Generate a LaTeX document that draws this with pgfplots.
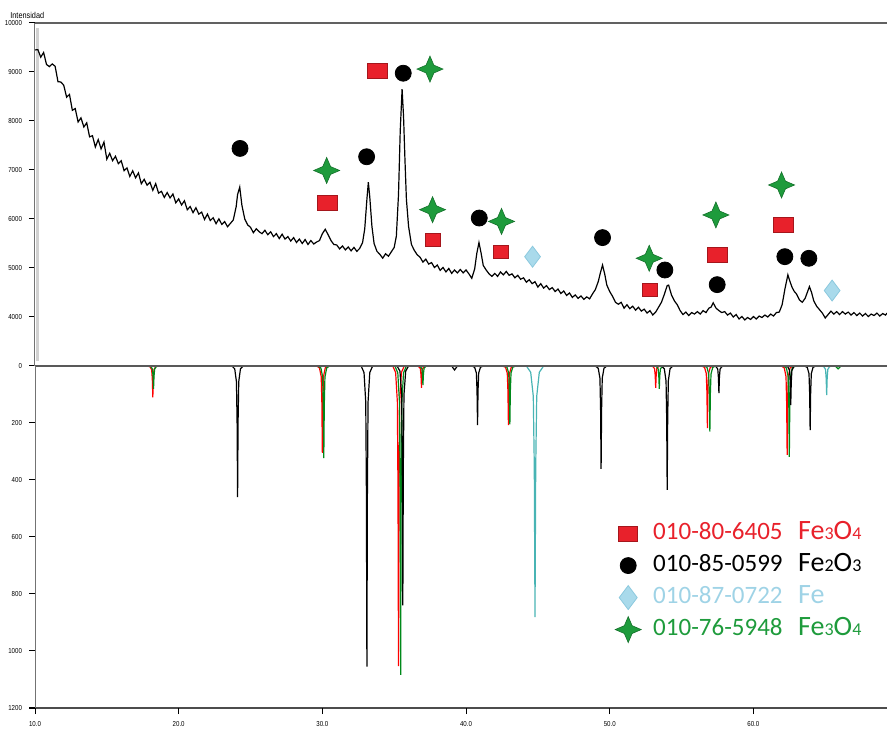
\documentclass[border=0pt]{standalone}
\usepackage{pgfplots}
\pgfplotsset{compat=1.18}
\usepackage{fontspec}
\setmainfont{Liberation Sans}
\newfontfamily\narrowfont[FakeStretch=0.85]{Liberation Sans}
\newfontfamily\legfont{Carlito}
\definecolor{legred}{HTML}{E8212B}
\definecolor{legredd}{HTML}{A5161C}
\definecolor{leggreen}{HTML}{1E9B3C}
\definecolor{leggreend}{HTML}{13702A}
\definecolor{legblue}{HTML}{A9DAEB}
\definecolor{legblued}{HTML}{8CC9DE}
\definecolor{legbluetxt}{HTML}{9FD3E6}
\definecolor{refred}{HTML}{FF0000}
\definecolor{refgreen}{HTML}{00891A}
\definecolor{refteal}{HTML}{48B4B4}
\pgfdeclareplotmark{sparkle}{%
  \pgfpathmoveto{\pgfqpoint{0pt}{\pgfplotmarksize}}%
  \pgfpathlineto{\pgfqpoint{0.3\pgfplotmarksize}{0.3\pgfplotmarksize}}%
  \pgfpathlineto{\pgfqpoint{\pgfplotmarksize}{0pt}}%
  \pgfpathlineto{\pgfqpoint{0.3\pgfplotmarksize}{-0.3\pgfplotmarksize}}%
  \pgfpathlineto{\pgfqpoint{0pt}{-\pgfplotmarksize}}%
  \pgfpathlineto{\pgfqpoint{-0.3\pgfplotmarksize}{-0.3\pgfplotmarksize}}%
  \pgfpathlineto{\pgfqpoint{-\pgfplotmarksize}{0pt}}%
  \pgfpathlineto{\pgfqpoint{-0.3\pgfplotmarksize}{0.3\pgfplotmarksize}}%
  \pgfpathclose
  \pgfusepathqfillstroke}
\newcommand\sub[1]{{\fontsize{9}{10}\selectfont #1}}
\newcommand\fmla{\fontsize{14}{15}\selectfont}
\begin{document}
\begin{tikzpicture}
\pgfplotsset{
  common/.style={
    width=426pt, scale only axis, xmin=10, xmax=69.3,
    tick align=outside, major tick length=3pt,
    tick style={black, line width=0.5pt},
    tick label style={font=\narrowfont\fontsize{3.6}{4}\selectfont},
    /pgf/number format/assume math mode=true,
    scaled x ticks=false, scaled y ticks=false,
    axis line style={draw=none},
  },
  sqbig/.style={only marks, mark=square*, mark size=3.75pt, mark options={xscale=1.33, fill=legred, draw=legredd, line width=0.4pt}},
  sqsmall/.style={only marks, mark=square*, mark size=3.3pt, mark options={xscale=1.15, fill=legred, draw=legredd, line width=0.4pt}},
  circ/.style={only marks, mark=*, mark size=4pt, mark options={fill=black, draw=black}},
  star/.style={only marks, mark=sparkle, mark size=6.5pt, mark options={fill=leggreen, draw=leggreend, line width=0.3pt}},
  diam/.style={only marks, mark=diamond*, mark size=5.25pt, mark options={fill=legblue, draw=legblued, line width=0.4pt}},
}
% ---------------- bottom panel: reference patterns ----------------
\begin{axis}[common,
  at={(0pt,0pt)}, anchor=south west, height=171pt,
  ymin=-1200, ymax=0,
  xtick={10,20,30,40,50,60}, xticklabels={10.0,20.0,30.0,40.0,50.0,60.0},
  ytick={-1200,-1000,-800,-600,-400,-200,0}, yticklabels={1200,1000,800,600,400,200,0},
  xtick pos=bottom, ytick pos=left,
  axis on top,
  legend style={at={(axis description cs:0.681,0.548)}, anchor=north west, draw=none, fill=none,
    inner sep=0pt, outer sep=0pt, row sep=3pt, column sep=0pt,
    font=\legfont\fontsize{12.5}{14}\selectfont,
    nodes={inner sep=0.5pt, text height=9pt, text depth=3pt}},
  legend cell align=left,
  legend image code/.code={\path[draw=none, fill=none] (0pt,0pt) rectangle (17pt,0.1pt); \draw[#1] plot coordinates {(5pt,0pt)};},
]
\addplot[refred, line width=0.6pt, forget plot] coordinates {
(10,0)
(17.8,0)(18.0,-2.4)(18.12,-13)(18.165,-46)(18.2,-110)(18.235,-46)(18.28,-13)(18.4,-2.4)(18.6,0)
(29.6,0)(29.8,-6.7)(29.92,-37)(29.965,-128)(30.0,-305)(30.035,-128)(30.08,-37)(30.2,-6.7)(30.4,0)
(34.9,0)(35.1,-23)(35.22,-126)(35.265,-442)(35.3,-1053)(35.335,-442)(35.38,-126)(35.5,-23)(35.7,0)
(36.5,0)(36.7,-1.7)(36.82,-9)(36.865,-32)(36.9,-77)(36.935,-32)(36.98,-9)(37.1,-1.7)(37.3,0)
(42.55,0)(42.75,-4.6)(42.87,-25)(42.915,-87)(42.95,-207)(42.985,-87)(43.03,-25)(43.15,-4.6)(43.35,0)
(52.8,0)(53.0,-1.7)(53.12,-9)(53.165,-32)(53.2,-77)(53.235,-32)(53.28,-9)(53.4,-1.7)(53.6,0)
(56.4,0)(56.6,-4.8)(56.72,-26)(56.765,-92)(56.8,-218)(56.835,-92)(56.88,-26)(57.0,-4.8)(57.2,0)
(61.95,0)(62.15,-6.9)(62.27,-37)(62.315,-131)(62.35,-312)(62.385,-131)(62.43,-37)(62.55,-6.9)(62.75,0)
(69.3,0)};
\addplot[refgreen, line width=0.6pt, forget plot] coordinates {
(10,0)
(17.85,0)(18.05,-1.8)(18.17,-10)(18.215,-34)(18.25,-80)(18.285,-34)(18.33,-10)(18.45,-1.8)(18.65,0)
(29.7,0)(29.9,-7.1)(30.02,-39)(30.065,-136)(30.1,-323)(30.135,-136)(30.18,-39)(30.3,-7.1)(30.5,0)
(35.05,0)(35.25,-24)(35.37,-130)(35.415,-455)(35.45,-1084)(35.485,-455)(35.53,-130)(35.65,-24)(35.85,0)
(36.6,0)(36.8,-1.5)(36.92,-8)(36.965,-28)(37.0,-67)(37.035,-28)(37.08,-8)(37.2,-1.5)(37.4,0)
(42.65,0)(42.85,-4.5)(42.97,-25)(43.015,-86)(43.05,-205)(43.085,-86)(43.13,-25)(43.25,-4.5)(43.45,0)
(53.05,0)(53.25,-1.8)(53.37,-10)(53.415,-34)(53.45,-80)(53.485,-34)(53.53,-10)(53.65,-1.8)(53.85,0)
(56.57,0)(56.77,-5.1)(56.89,-28)(56.935,-97)(56.97,-230)(57.005,-97)(57.05,-28)(57.17,-5.1)(57.37,0)
(62.1,0)(62.3,-7)(62.42,-38)(62.465,-134)(62.5,-319)(62.535,-134)(62.58,-38)(62.7,-7)(62.9,0)
(65.7,0)(65.9,-10)(66.1,0)
(69.3,0)};
\addplot[black, line width=0.6pt, forget plot] coordinates {
(10,0)
(23.7,0)(23.9,-10)(24.02,-55)(24.065,-193)(24.1,-460)(24.135,-193)(24.18,-55)(24.3,-10)(24.5,0)
(32.7,0)(32.9,-23)(33.02,-127)(33.065,-443)(33.1,-1055)(33.135,-443)(33.18,-127)(33.3,-23)(33.5,0)
(35.2,0)(35.4,-18)(35.52,-101)(35.565,-353)(35.6,-840)(35.635,-353)(35.68,-101)(35.8,-18)(36.0,0)
(39.0,0)(39.2,-14)(39.4,0)
(40.4,0)(40.6,-4.6)(40.72,-25)(40.765,-87)(40.8,-207)(40.835,-87)(40.88,-25)(41.0,-4.6)(41.2,0)
(49.0,0)(49.2,-8)(49.32,-43)(49.365,-152)(49.4,-361)(49.435,-152)(49.48,-43)(49.6,-8)(49.8,0)
(53.6,0)(53.8,-9.6)(53.92,-52)(53.965,-183)(54.0,-435)(54.035,-183)(54.08,-52)(54.2,-9.6)(54.4,0)
(57.2,0)(57.4,-2.1)(57.52,-11)(57.565,-40)(57.6,-95)(57.635,-40)(57.68,-11)(57.8,-2.1)(58.0,0)
(62.2,0)(62.4,-3)(62.52,-16)(62.565,-58)(62.6,-137)(62.635,-58)(62.68,-16)(62.8,-3)(63.0,0)
(63.55,0)(63.75,-5)(63.87,-27)(63.915,-95)(63.95,-225)(63.985,-95)(64.03,-27)(64.15,-5)(64.35,0)
(69.3,0)};
\addplot[refteal, line width=0.6pt, forget plot] coordinates {
(10,0)
(44.2,0)(44.5,-22)(44.68,-106)(44.75,-352)(44.8,-881)(44.85,-352)(44.92,-106)(45.1,-22)(45.4,0)
(64.7,0)(64.9,-2.2)(65.02,-12)(65.065,-43)(65.1,-102)(65.135,-43)(65.18,-12)(65.3,-2.2)(65.5,0)
(69.3,0)};
\draw[color=black!65, line width=1.5pt] (axis cs:10,0) -- (axis cs:69.3,0);
\draw[color=black!70, line width=1pt] (axis cs:10,-1200) -- (axis cs:69.3,-1200);
\draw[color=black!55, line width=0.5pt] (axis cs:10,-1200) -- (axis cs:10,0);
\addlegendimage{only marks, mark=square*, mark size=3.75pt, mark options={xscale=1.27, fill=legred, draw=legredd, line width=0.4pt}}
\addlegendentry{\makebox[72.5pt][l]{\textcolor{legred}{010-80-6405}}\textcolor{legred}{\fmla Fe\sub{3}O\sub{4}}}
\addlegendimage{only marks, mark=*, mark size=4pt, mark options={fill=black, draw=black}}
\addlegendentry{\makebox[72.5pt][l]{\textcolor{black}{010-85-0599}}\textcolor{black}{\fmla Fe\sub{2}O\sub{3}}}
\addlegendimage{only marks, mark=diamond*, mark size=6pt, mark options={fill=legblue, draw=legblued, line width=0.4pt}}
\addlegendentry{\makebox[72.5pt][l]{\textcolor{legbluetxt}{010-87-0722}}\textcolor{legbluetxt}{\fmla Fe}}
\addlegendimage{only marks, mark=sparkle, mark size=6.5pt, mark options={fill=leggreen, draw=leggreend, line width=0.3pt}}
\addlegendentry{\makebox[72.5pt][l]{\textcolor{leggreen}{010-76-5948}}\textcolor{leggreen}{\fmla Fe\sub{3}O\sub{4}}}
\node[anchor=base west, inner sep=0pt, font=\fontsize{4.3}{5}\selectfont] at (axis cs:38.46,-1200) [yshift=-14pt] {2 Theta};
\end{axis}
% ---------------- top panel: measured pattern ----------------
\begin{axis}[common,
  at={(0pt,171pt)}, anchor=south west, height=171.5pt,
  ymin=3000, ymax=10000,
  xtick=\empty,
  ytick={4000,5000,6000,7000,8000,9000,10000},
  yticklabels={4000,5000,6000,7000,8000,9000,10000},
  ytick pos=left,
  clip=false,
]
\fill[black!18] (axis cs:10.08,3100) rectangle (axis cs:10.28,9900);
\draw[color=black!55, line width=0.5pt] (axis cs:10,3000) -- (axis cs:10,10000);
\draw[color=black!62, line width=1pt] (axis cs:10,10000) -- (axis cs:69.3,10000);
\addplot[black, line width=0.6pt] coordinates {
(10.0,9450)(10.2,9456)(10.4,9302)(10.6,9398)(10.8,9154)
(11.0,9110)(11.2,9164)(11.4,9118)(11.6,8802)(11.8,8796)
(12.0,8730)(12.2,8486)(12.4,8542)(12.6,8218)(12.8,8254)
(13.0,7980)(13.2,8064)(13.4,7878)(13.6,7962)(13.8,7676)
(14.0,7700)(14.2,7470)(14.4,7620)(14.6,7430)(14.8,7570)
(15.0,7220)(15.2,7340)(15.4,7190)(15.6,7280)(15.8,7130)
(16.0,7190)(16.2,6986)(16.4,7042)(16.6,6868)(16.8,6984)
(17.0,6840)(17.2,6940)(17.4,6720)(17.6,6810)(17.8,6690)
(18.0,6750)(18.2,6586)(18.4,6722)(18.6,6528)(18.8,6564)
(19.0,6440)(19.2,6540)(19.4,6430)(19.6,6510)(19.8,6330)
(20.0,6410)(20.2,6286)(20.4,6372)(20.6,6188)(20.8,6254)
(21.0,6130)(21.2,6230)(21.4,6100)(21.6,6140)(21.8,5990)
(22.0,6100)(22.2,5968)(22.4,6026)(22.6,5904)(22.8,6002)
(23.0,5890)(23.2,5946)(23.4,5842)(23.6,5910)(23.8,5980)
(24.0,6250)(24.1,6500)(24.25,6650)(24.4,6280)(24.6,6000)(24.8,5880)
(25.0,5830)(25.2,5720)(25.4,5800)(25.6,5740)(25.8,5700)
(26.0,5770)(26.2,5680)(26.4,5740)(26.6,5640)(26.8,5700)
(27.0,5600)(27.2,5690)(27.4,5590)(27.6,5640)(27.8,5550)
(28.0,5620)(28.2,5520)(28.4,5590)(28.6,5500)(28.8,5580)
(29.0,5480)(29.2,5560)(29.4,5490)(29.6,5530)(29.8,5560)
(30.0,5700)(30.2,5790)(30.4,5680)(30.6,5560)(30.8,5480)
(31.0,5470)(31.2,5390)(31.4,5450)(31.6,5370)(31.8,5430)
(32.0,5350)(32.2,5420)(32.4,5340)(32.6,5400)(32.8,5520)
(32.95,5800)(33.1,6400)(33.2,6750)(33.3,6450)(33.45,5850)(33.6,5500)(33.8,5340)
(34.0,5280)(34.2,5200)(34.4,5290)(34.6,5240)(34.8,5330)
(35.0,5420)(35.15,5650)(35.3,6500)(35.42,7800)(35.55,8650)(35.65,8100)(35.75,7200)(35.85,6400)
(36.0,5850)(36.2,5480)(36.4,5360)(36.6,5270)(36.8,5220)
(37.0,5120)(37.2,5180)(37.4,5080)(37.6,5110)(37.8,5010)
(38.0,5060)(38.2,4950)(38.4,5010)(38.6,4920)(38.8,4990)
(39.0,4890)(39.2,4960)(39.4,4900)(39.6,4970)(39.8,4900)
(40.0,4960)(40.2,4880)(40.4,4790)(40.6,4980)(40.75,5300)(40.9,5520)(41.05,5300)(41.2,5050)(41.4,4960)
(41.6,4880)(41.8,4830)
(42.0,4890)(42.2,4830)(42.4,4920)(42.6,4860)(42.8,4930)
(43.0,4850)(43.2,4880)(43.4,4800)(43.6,4850)(43.8,4770)
(44.0,4800)(44.2,4710)(44.4,4760)(44.6,4680)(44.8,4720)
(45.0,4610)(45.2,4680)(45.4,4590)(45.6,4640)(45.8,4560)
(46.0,4600)(46.2,4520)(46.4,4570)(46.6,4480)(46.8,4530)
(47.0,4440)(47.2,4490)(47.4,4400)(47.6,4450)(47.8,4380)
(48.0,4430)(48.2,4360)(48.4,4410)(48.6,4370)(48.8,4470)
(49.0,4560)(49.2,4720)(49.35,4900)(49.5,5060)(49.65,4880)(49.8,4650)
(50.0,4520)(50.2,4420)(50.4,4300)(50.6,4260)(50.8,4300)
(51.0,4180)(51.2,4250)(51.4,4170)(51.6,4220)(51.8,4140)
(52.0,4200)(52.2,4120)(52.4,4160)(52.6,4080)(52.8,4130)
(53.0,4040)(53.2,4100)(53.4,4200)(53.6,4300)(53.8,4460)(54.0,4640)(54.1,4650)(54.3,4450)(54.5,4330)(54.7,4250)(54.9,4130)
(55.1,4050)(55.3,4100)(55.5,4030)(55.7,4090)(55.9,4060)
(56.1,4110)(56.3,4060)(56.5,4130)(56.7,4090)(56.9,4180)(57.05,4200)(57.2,4290)(57.4,4180)(57.6,4130)(57.8,4090)
(58.0,4110)(58.2,4040)(58.4,4080)(58.6,4000)(58.8,4050)
(59.0,3960)(59.2,4010)(59.4,3940)(59.6,3990)(59.8,3950)
(60.0,4010)(60.2,3960)(60.4,4020)(60.6,3990)(60.8,4040)
(61.0,4000)(61.2,4060)(61.4,4020)(61.6,4090)(61.8,4100)
(62.0,4250)(62.2,4580)(62.4,4860)(62.55,4720)(62.7,4600)(62.85,4520)(63.0,4470)(63.2,4350)(63.4,4300)(63.6,4380)(63.75,4500)(63.9,4620)(64.05,4500)(64.2,4330)(64.4,4220)(64.6,4150)(64.8,4080)(65.0,3980)(65.2,4050)
(65.4,4120)(65.6,4060)(65.8,4110)
(66.0,4050)(66.2,4110)(66.4,4060)(66.6,4100)(66.8,4040)
(67.0,4090)(67.2,4030)(67.4,4080)(67.6,4020)(67.8,4070)
(68.0,4010)(68.2,4060)(68.4,4030)(68.6,4080)(68.8,4020)
(69.0,4070)(69.2,4040)(69.3,4080)};
\addplot[sqbig] coordinates {(30.34,6320)(33.83,9030)(57.48,5265)(62.07,5880)};
\addplot[sqsmall] coordinates {(37.72,5571)(42.45,5330)(52.8,4551)};
\addplot[circ] coordinates {(24.27,7440)(33.08,7270)(35.63,8975)(40.92,6020)(49.5,5620)(53.84,4959)(57.48,4660)(62.19,5231)(63.86,5198)};
\addplot[star] coordinates {(30.3,6990)(37.49,9060)(37.67,6190)(42.47,5950)(52.75,5198)(57.39,6082)(61.96,6694)};
\addplot[diam] coordinates {(44.63,5231)(65.48,4540)};
\end{axis}
\node[anchor=base west, inner sep=0pt, font=\narrowfont\fontsize{4.3}{5}\selectfont] at (-12.5pt,344.5pt) {Intensidad};
\pgfresetboundingbox
\path[use as bounding box] (-17.5pt,-14.5pt) rectangle (426pt,354pt);
\end{tikzpicture}
\end{document}
